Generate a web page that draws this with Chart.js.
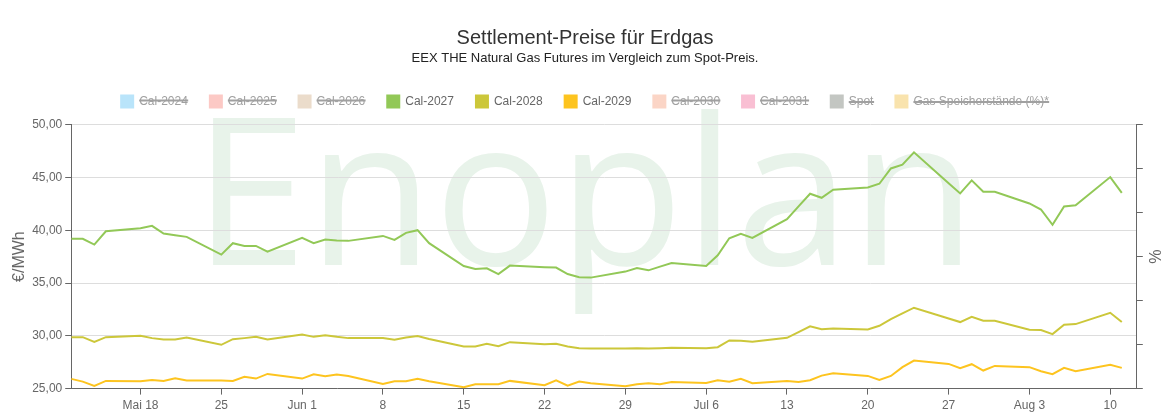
<!DOCTYPE html>
<html lang="de">
<head>
<meta charset="utf-8">
<title>Settlement-Preise für Erdgas</title>
<script src="https://cdn.jsdelivr.net/npm/chart.js@4.4.1/dist/chart.umd.min.js"></script>
<style>
  html, body { margin: 0; padding: 0; background: #fff; }
  #wrap { width: 1170px; height: 420px; position: relative; }
</style>
</head>
<body>
<div id="wrap"><canvas id="gasChart"></canvas></div>
<script>
// Handelstage (2026, MM-DD)
const dates = [
  '05-12', '05-13', '05-14', '05-15', '05-18', '05-19', '05-20', '05-21', '05-22',
  '05-25', '05-26', '05-27', '05-28', '05-29',
  '06-01', '06-02', '06-03', '06-04', '06-05', '06-08', '06-09', '06-10', '06-11', '06-12',
  '06-15', '06-16', '06-17', '06-18', '06-19', '06-22', '06-23', '06-24', '06-25', '06-26',
  '06-29', '06-30',
  '07-01', '07-02', '07-03', '07-06', '07-07', '07-08', '07-09', '07-10',
  '07-13', '07-14', '07-15', '07-16', '07-17', '07-20', '07-21', '07-22', '07-23', '07-24',
  '07-27', '07-28', '07-29', '07-30', '07-31',
  '08-03', '08-04', '08-05', '08-06', '08-07', '08-10', '08-11'
];

const cal2027 = [
  39.18, 39.18, 38.64, 39.90, 40.19, 40.41, 39.68, 39.52, 39.37,
  37.69, 38.77, 38.51, 38.51, 37.97,
  39.27, 38.77, 39.11, 39.02, 38.99, 39.46, 39.08, 39.75, 40.00, 38.77,
  36.61, 36.33, 36.39, 35.85, 36.65, 36.50, 36.46, 35.85, 35.54, 35.51,
  36.08, 36.42,
  36.20, 36.55, 36.90, 36.61, 37.63, 39.24, 39.65, 39.27,
  41.04, 42.25, 43.45, 43.07, 43.83, 44.05, 44.40, 45.85, 46.20, 47.37,
  44.45, 43.48, 44.72, 43.64, 43.64,
  42.53, 41.96, 40.51, 42.25, 42.37, 45.03, 43.54
];

const cal2028 = [
  29.87, 29.87, 29.43, 29.87, 30.00, 29.78, 29.65, 29.65, 29.84,
  29.15, 29.68, 29.78, 29.90, 29.65,
  30.13, 29.90, 30.06, 29.90, 29.78, 29.78, 29.62, 29.84, 29.97, 29.70,
  28.99, 28.99, 29.24, 29.02, 29.40, 29.21, 29.24, 28.99, 28.83, 28.80,
  28.80, 28.83,
  28.80, 28.83, 28.86, 28.83, 28.92, 29.56, 29.53, 29.43,
  29.81, 30.35, 30.89, 30.63, 30.70, 30.60, 30.95, 31.58, 32.12, 32.66,
  31.64, 31.30, 31.80, 31.42, 31.42,
  30.57, 30.54, 30.16, 31.04, 31.11, 32.18, 31.30
];

const cal2029 = [
  25.92, 25.66, 25.25, 25.73, 25.70, 25.82, 25.73, 25.98, 25.76,
  25.76, 25.73, 26.11, 25.95, 26.39,
  25.95, 26.36, 26.17, 26.33, 26.20, 25.44, 25.70, 25.70, 25.92, 25.70,
  25.13, 25.41, 25.41, 25.41, 25.73, 25.32, 25.79, 25.28, 25.66, 25.51,
  25.22, 25.41,
  25.51, 25.41, 25.63, 25.54, 25.79, 25.66, 25.92, 25.51,
  25.73, 25.63, 25.79, 26.23, 26.46, 26.20, 25.82, 26.20, 27.03, 27.66,
  27.34, 26.93, 27.31, 26.71, 27.15,
  27.03, 26.65, 26.36, 26.96, 26.65, 27.25, 26.96
];

// Achsenbeschriftungen
const tickDates = ['05-18', '05-25', '06-01', '06-08', '06-15', '06-22', '06-29',
                   '07-06', '07-13', '07-20', '07-27', '08-03', '08-10'];
const tickLabels = ['Mai 18', '25', 'Jun 1', '8', '15', '22', '29',
                    'Jul 6', '13', '20', '27', 'Aug 3', '10'];
const xStart = '05-12';
const xEnd = '08-13';

// MM-DD -> Tage seit Beginn
function dayOf(md) {
  const [m, d] = md.split('-').map(Number);
  const [m0, d0] = xStart.split('-').map(Number);
  return (Date.UTC(2026, m - 1, d) - Date.UTC(2026, m0 - 1, d0)) / 864e5;
}

function points(values) {
  return values.map((v, i) => ({ x: dayOf(dates[i]), y: v }));
}

function series(label, color, values, hidden, axis) {
  return {
    label: label,
    data: values ? points(values) : [],
    borderColor: color,
    backgroundColor: color,
    borderWidth: 2,
    pointRadius: 0,
    tension: 0,
    hidden: hidden,
    yAxisID: axis || 'y'
  };
}

// Wasserzeichen hinter dem Diagramm
const watermark = {
  id: 'watermark',
  beforeDraw(chart) {
    const ctx = chart.ctx;
    ctx.save();
    ctx.font = '206px "Open Sans"';
    ctx.fillStyle = '#e8f3ea';
    ctx.textAlign = 'left';
    ctx.textBaseline = 'alphabetic';
    ctx.fillText('Enoplan', 193, 265);
    ctx.restore();
  }
};

// etwas Luft unter der Legende
const legendGap = {
  id: 'legendGap',
  beforeInit(chart) {
    const fit = chart.legend.fit;
    chart.legend.fit = function () {
      fit.call(this);
      this.height += 7;
    };
  }
};

Chart.defaults.font.family = 'Arial, "Liberation Sans", Helvetica, sans-serif';
Chart.defaults.color = '#666';

const ctx = document.getElementById('gasChart').getContext('2d');

new Chart(ctx, {
  type: 'line',
  data: {
    datasets: [
      series('Cal-2024', '#b9e4fa', null, true),
      series('Cal-2025', '#fcc9c5', null, true),
      series('Cal-2026', '#ebdccb', null, true),
      series('Cal-2027', '#92c857', cal2027, false),
      series('Cal-2028', '#ccc73a', cal2028, false),
      series('Cal-2029', '#fdc41f', cal2029, false),
      series('Cal-2030', '#fbd5c6', null, true),
      series('Cal-2031', '#f9bfd3', null, true),
      series('Spot', '#c3c6c2', null, true),
      series('Gas Speicherstände (%)*', '#f9e3ad', null, true, 'y1')
    ]
  },
  options: {
    responsive: true,
    maintainAspectRatio: false,
    animation: false,
    layout: { padding: { left: 7, right: 7, top: 0, bottom: 3 } },
    plugins: {
      title: {
        display: true,
        text: 'Settlement-Preise für Erdgas',
        color: '#333',
        font: { size: 20, weight: 'normal', lineHeight: 1 },
        padding: { top: 28, bottom: 0 }
      },
      subtitle: {
        display: true,
        text: 'EEX THE Natural Gas Futures im Vergleich zum Spot-Preis.',
        color: '#222',
        font: { size: 13, lineHeight: 1.2 },
        padding: { top: 3, bottom: 7 }
      },
      legend: {
        labels: {
          boxWidth: 12,
          boxHeight: 12,
          padding: 22,
          font: { size: 12 },
          generateLabels(chart) {
            const items = Chart.defaults.plugins.legend.labels.generateLabels(chart);
            items.forEach(it => { it.fontColor = it.hidden ? '#a0a0a0' : '#666'; });
            return items;
          }
        }
      },
      tooltip: { enabled: false }
    },
    scales: {
      x: {
        type: 'linear',
        min: 0,
        max: dayOf(xEnd) - 0.7,
        afterBuildTicks(scale) {
          scale.ticks = tickDates.map(d => ({ value: dayOf(d) }));
        },
        ticks: {
          autoSkip: false,
          maxRotation: 0,
          padding: 4,
          font: { size: 12 },
          callback(value, index) { return tickLabels[index]; }
        },
        grid: { drawOnChartArea: false, tickLength: 6, tickColor: '#666' },
        border: { color: '#666' }
      },
      y: {
        position: 'left',
        min: 25,
        max: 50,
        ticks: {
          stepSize: 5,
          padding: 3,
          font: { size: 12 },
          callback(v) { return v.toFixed(2).replace('.', ','); }
        },
        grid: { color: '#dddddd', tickLength: 6, tickColor: '#666' },
        border: { color: '#666' },
        title: {
          display: true, text: '€/MWh', font: { size: 16 }, color: '#666',
          padding: { top: 3, bottom: 0 }
        }
      },
      y1: {
        position: 'right',
        min: 0,
        max: 120,
        ticks: {
          stepSize: 20,
          padding: 0,
          callback() { return ''; }
        },
        grid: { drawOnChartArea: false, tickLength: 6, tickColor: '#666' },
        border: { color: '#666' },
        title: {
          display: true, text: '%', font: { size: 16 }, color: '#666',
          padding: { top: 0, bottom: 1 }
        }
      }
    }
  },
  plugins: [watermark, legendGap]
});
</script>
</body>
</html>
